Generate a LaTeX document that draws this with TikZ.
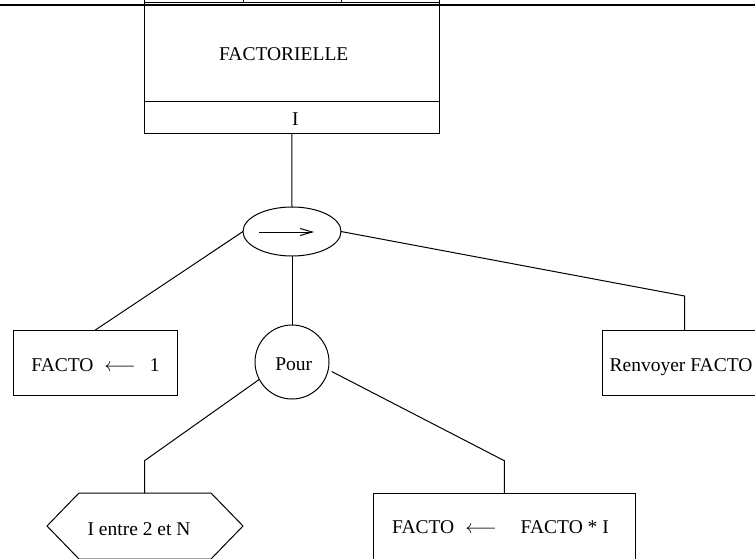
\RequirePackage{fix-cm}
\documentclass[tikz,border=0pt]{standalone}
\usepackage{fontspec}
\setmainfont{Liberation Serif}
\usetikzlibrary{shapes.geometric,arrows.meta,calc}
\begin{document}
\begin{tikzpicture}[x=1pt,y=-1pt,line width=1pt,
  every node/.style={inner sep=0pt,outer sep=0pt},
  txt/.style={font=\fontsize{19.5}{23}\selectfont,text height=12.9pt,text depth=0pt},
  boxshape/.style={draw,rectangle,inner sep=0pt},
  barb/.style={-{Straight Barb[length=12pt,width=7pt]}}]
\useasboundingbox (0,0) rectangle (755,558);
\clip (0,0) rectangle (755,558);

% header cells of the procedure block
\node[boxshape,minimum width=98.8pt,minimum height=40pt] (cellA) at (193.9,-17.5) {};
\node[boxshape,minimum width=97.7pt,minimum height=40pt] (cellB) at (292.15,-17.5) {};
\node[boxshape,minimum width=98pt,minimum height=40pt] (cellC) at (390,-17.5) {};

% procedure name and parameter
\node[boxshape,minimum width=294.5pt,minimum height=98.5pt] (head) at (291.75,51.75) {};
\node[boxshape,minimum width=294.5pt,minimum height=32.3pt] (param) at (291.75,117.15) {};
\node[txt] (headtext) at (283.7,53.8) {FACTORIELLE};
\node[txt] (paramtext) at (295.3,119.4) {I};

% page rule
\coordinate (rulel) at (0,5);
\coordinate (ruler) at (755,5);
\draw[line width=2pt] (rulel) -- (ruler);

% sequence node
\node[draw,ellipse,minimum width=98pt,minimum height=49pt] (seq) at (292,231.5) {};
\draw[barb] ($(seq.center)+(-33,0.5)$) -- ($(seq.center)+(22,0.5)$);
\draw (param.south) -- (seq.north);

% initialisation
\node[boxshape,minimum width=164pt,minimum height=65pt] (init) at (95.3,362.5) {};
\node[txt] (inittext) at (95.5,365) {FACTO\hspace{11pt}$\longleftarrow$\hspace{14pt}1};
\draw (seq.west) -- (init.north);

% result
\node[boxshape,minimum width=164.7pt,minimum height=65pt] (ret) at (684.65,362.5) {};
\node[txt] (rettext) at (681,365) {Renvoyer FACTO};
\coordinate (retbend) at (684.65,296);
\draw (seq.east) -- (retbend) -- (ret.north);

% loop
\node[draw,circle,minimum size=74pt] (pour) at (292,362) {};
\node[txt] (pourtext) at (293.7,364) {Pour};
\draw (seq.south) -- (pour.north);

% loop range
\draw (79,493) -- (211,493) -- (243,526) -- (211,559) -- (79,559) -- (47,526) -- cycle;
\node[txt] (rangetext) at (139,529) {I entre 2 et N};
\coordinate (rangebend) at (144.5,460.7);
\coordinate (rangetop) at (144.5,493);
\draw (pour.208) -- (rangebend) -- (rangetop);

% loop body
\node[boxshape,minimum width=262pt,minimum height=70pt] (body) at (504.3,528) {};
\node[txt] (bodytext) at (500.5,527) {FACTO\hspace{11pt}$\longleftarrow$\hspace{24pt}FACTO * I};
\coordinate (bodybend) at (504.3,460.7);
\draw[shorten <=4pt] (pour.-12) -- (bodybend) -- (body.north);
\end{tikzpicture}
\end{document}
